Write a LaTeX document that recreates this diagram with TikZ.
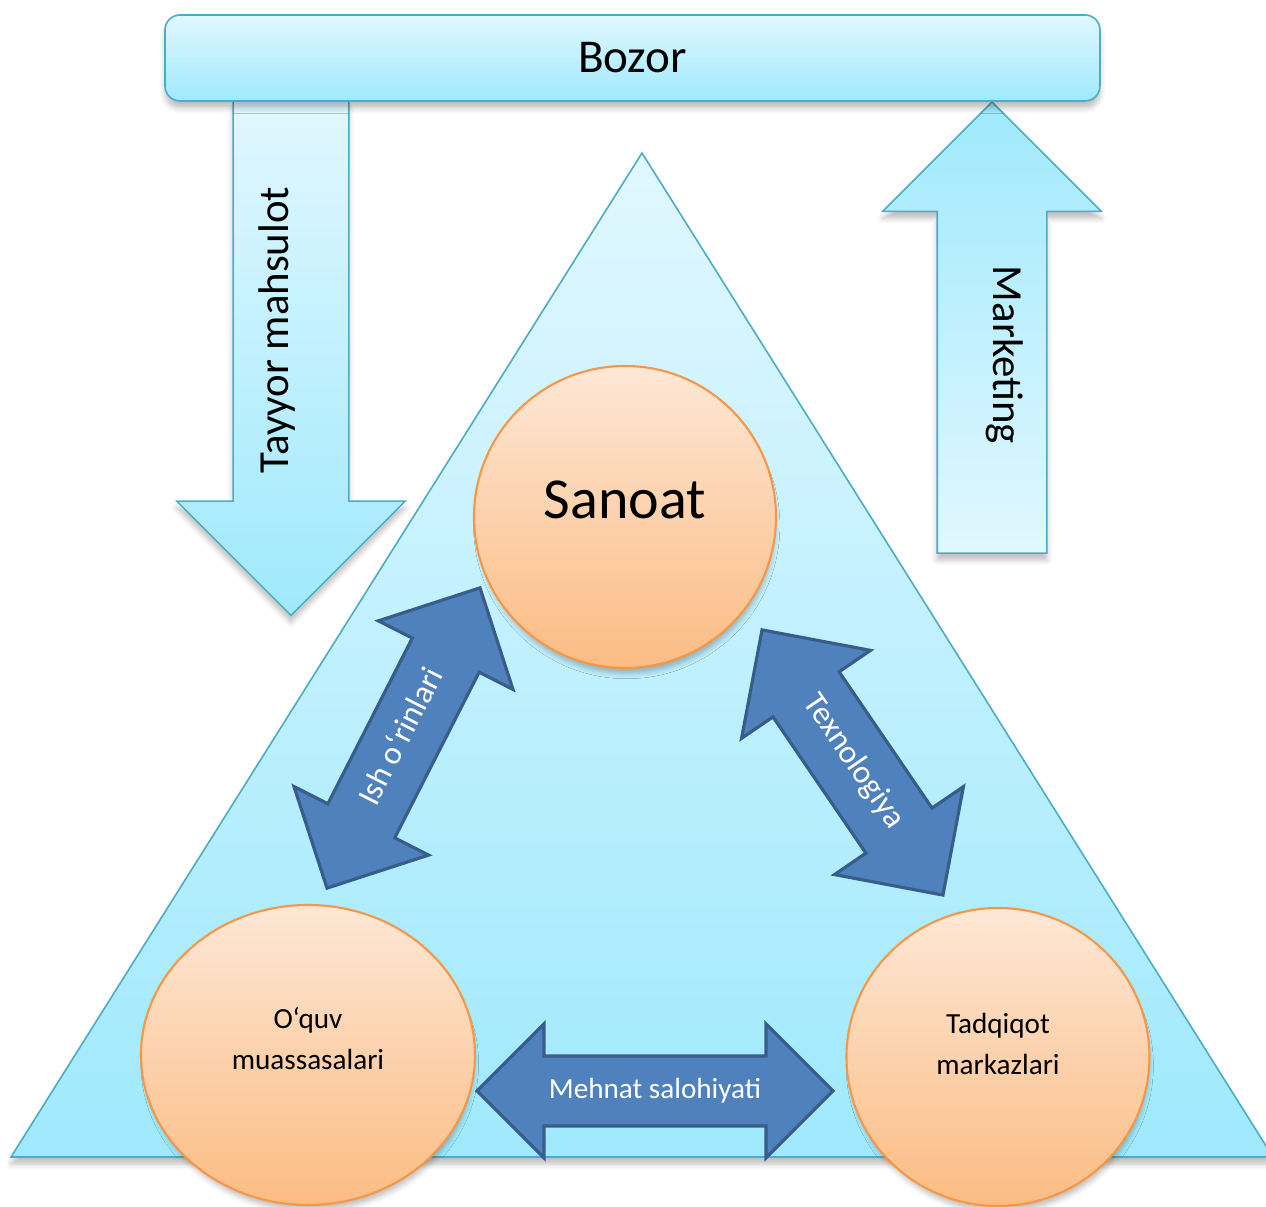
\documentclass[tikz,border=0pt]{standalone}
\usepackage{fontspec}
\setmainfont{Carlito}
\usetikzlibrary{shapes.arrows,shapes.geometric,shadows.blur}

\definecolor{aqualine}{HTML}{4BACC6}
\definecolor{aquatop}{HTML}{E1F7FE}
\definecolor{aquabottom}{HTML}{9FE9FD}
\definecolor{peachline}{HTML}{F79646}
\definecolor{peachtop}{HTML}{FDE7D5}
\definecolor{peachbottom}{HTML}{FBBC83}
\definecolor{linkline}{HTML}{385D8A}
\definecolor{linkfill}{HTML}{4F81BD}

\tikzset{softshadow/.style = {blur shadow={shadow xshift=0pt, shadow yshift=-2pt, shadow blur radius=1.5pt, shadow opacity=25}}}
\tikzset{aquaform/.style = {draw=aqualine, line width=0.45pt, top color=aquatop, bottom color=aquabottom, softshadow}}
\tikzset{bubble/.style = {ellipse, draw=peachline, line width=0.6pt, top color=peachtop, bottom color=peachbottom, inner sep=0,
    blur shadow={shadow xshift=0.5pt, shadow yshift=-2.5pt, shadow scale=0.98, shadow blur radius=1.5pt, shadow opacity=25}}}
\tikzset{linkarrow/.style = {double arrow, draw=linkline, fill=linkfill, line width=0.9pt, text=white,
    font=\fontsize{8.3}{10}\selectfont, text height=6.3pt, text depth=2.2pt, inner xsep=0}}
\tikzset{flowarrow/.style = {single arrow, draw=aqualine, line width=0.45pt,
    shape border rotate=180, inner xsep=0, softshadow}}
\tikzset{smalltext/.style = {align=center, font=\fontsize{8.3}{11.7}\selectfont}}

\begin{document}
\begin{tikzpicture}
\useasboundingbox (0,0) rectangle (12.66,12.07);
% triangle
\draw[aquaform] (0.11,0.50) -- (6.42,10.54) -- (12.73,0.50) -- cycle;
% flows to and from the market
\node[flowarrow, rotate=90, top color=aquatop, bottom color=aquabottom, minimum height=5.15cm, inner ysep=0.57cm,
    single arrow head extend=0.565cm] (goods) at (2.91,8.78) {};
\node[flowarrow, rotate=-90, top color=aquabottom, bottom color=aquatop, minimum height=4.51cm, inner ysep=0.54cm,
    single arrow head extend=0.545cm] (marketing) at (9.92,8.52) {};
\node[rotate=90, font=\fontsize{12.2}{14}\selectfont] (goodslabel) at (2.77,8.77) {Tayyor mahsulot};
\node[rotate=-90, font=\fontsize{12.2}{14}\selectfont] (marketinglabel) at (10.05,8.52) {Marketing};
\node[aquaform, rounded corners=0.15cm, minimum width=9.35cm, minimum height=0.86cm,
    font=\fontsize{13.4}{16}\selectfont] (bozor) at (6.325,11.49) {Bozor};
% circles
\node[bubble, minimum width=3.02cm, minimum height=3.02cm] (sanoat) at (6.25,6.90) {};
\node[bubble, minimum width=3.34cm, minimum height=3.00cm] (talim) at (3.08,1.52) {};
\node[bubble, minimum width=3.03cm, minimum height=2.98cm] (tadqiqot) at (9.98,1.50) {};
\node[font=\fontsize{16.5}{20}\selectfont] (sanoatlabel) at (6.25,7.07) {Sanoat};
\node[smalltext] (talimlabel) at (3.08,1.68) {O‘quv\\muassasalari};
\node[smalltext] (tadqiqotlabel) at (9.98,1.63) {Tadqiqot\\markazlari};
% links between them
\node[linkarrow, rotate=63, font=\fontsize{9.3}{11}\selectfont, minimum height=3.37cm, inner ysep=0.21cm,
    double arrow head extend=0.38cm] (jobs) at (4.035,4.69) {Ish o‘rinlari};
\node[linkarrow, rotate=-55.7, font=\fontsize{9.3}{11}\selectfont, minimum height=3.21cm, inner ysep=0.235cm,
    double arrow head extend=0.38cm] (tech) at (8.525,4.445) {Texnologiya};
\node[linkarrow, minimum height=3.56cm, inner ysep=0.185cm, double arrow head extend=0.32cm] (labour) at (6.55,1.16) {Mehnat salohiyati};
\end{tikzpicture}
\end{document}
